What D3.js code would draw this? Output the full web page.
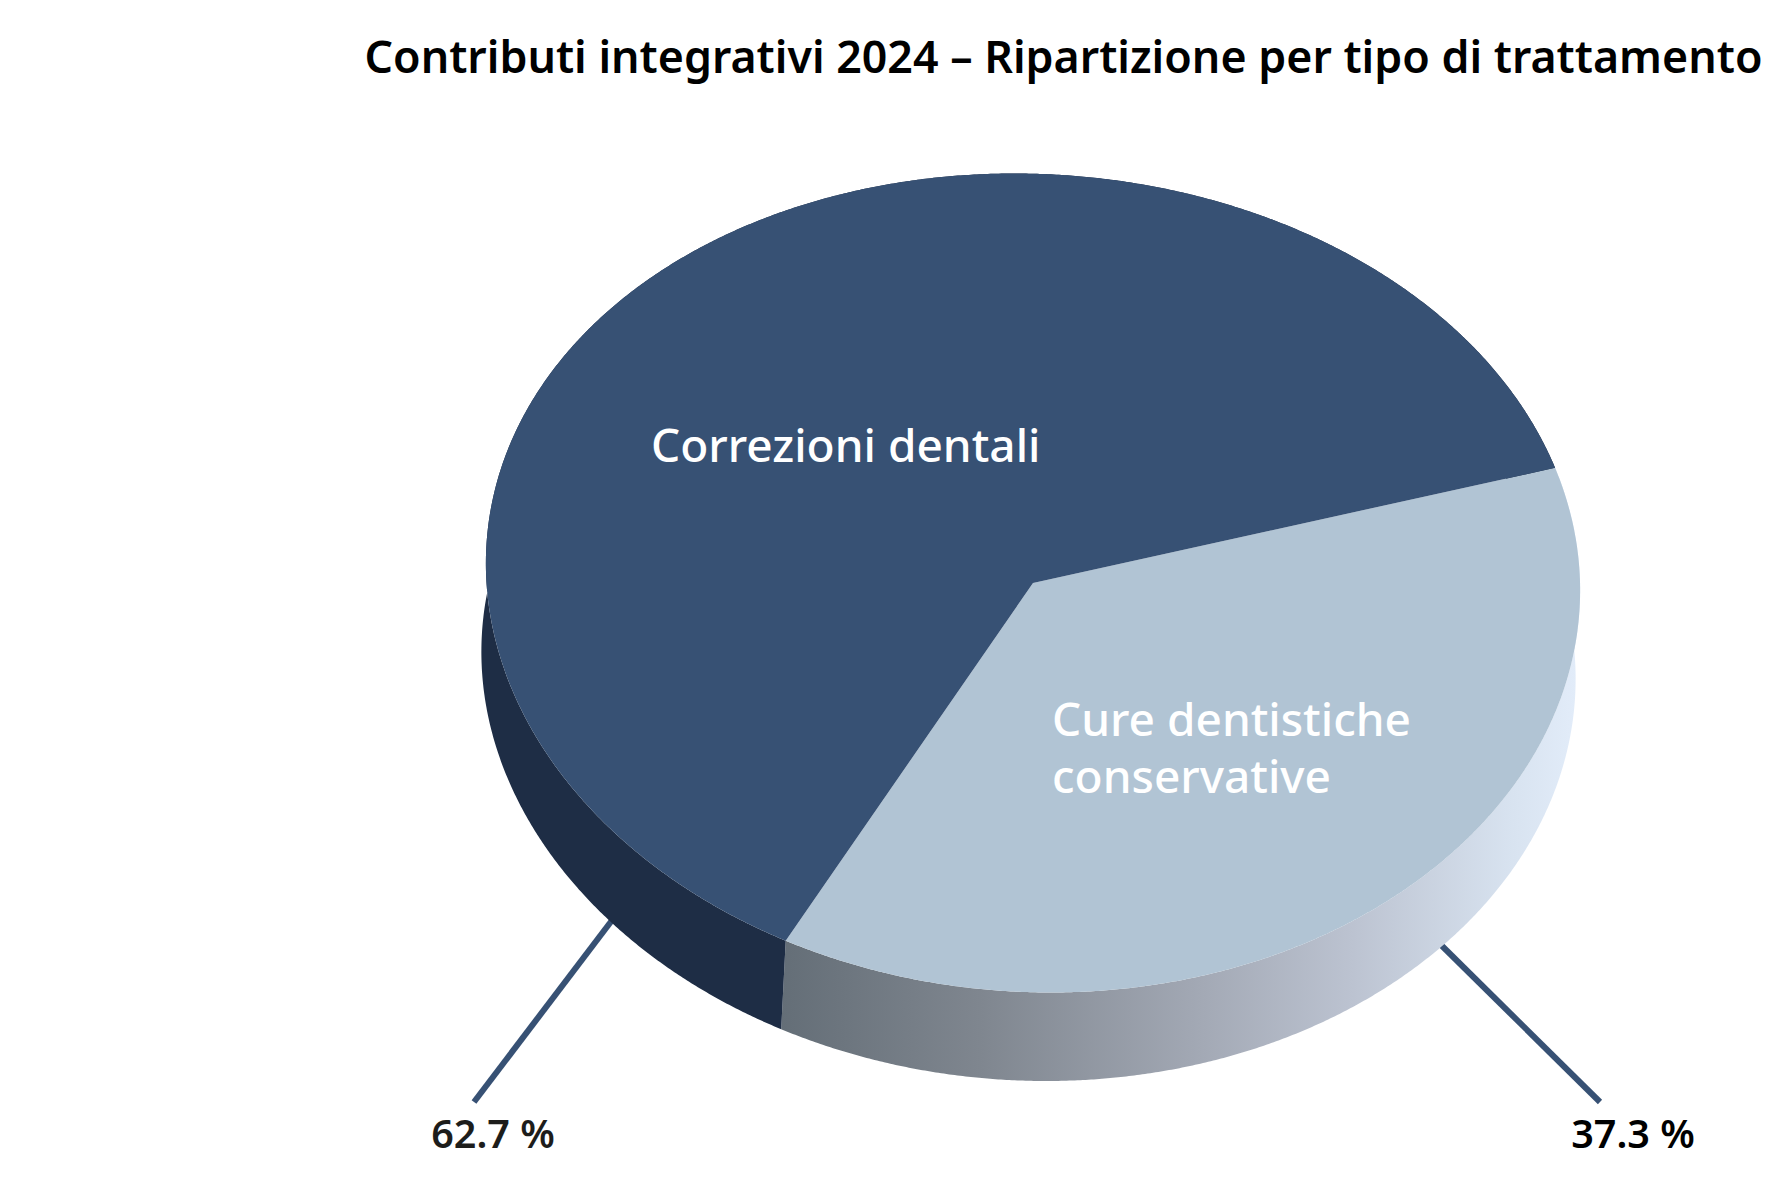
<!DOCTYPE html>
<html lang="it">
<head>
<meta charset="utf-8">
<title>Contributi integrativi 2024</title>
<script src="https://cdn.jsdelivr.net/npm/d3@7"></script>
<style>
  html, body { margin: 0; background: #fff; }
  svg { display: block; }
  text { font-family: "Noto Sans", sans-serif; }
</style>
</head>
<body>
<script>
// data
const categories = ["Cure dentistiche conservative", "Correzioni dentali"];
const shares = [37.3, 62.7];
const shareLabels = ["37.3 %", "62.7 %"];
const nameLines = [["Cure dentistiche", "conservative"], ["Correzioni dentali"]];
const titleText = "Contributi integrativi 2024 – Ripartizione per tipo di trattamento";

const width = 1780;
const height = 1200;

// the pie is a tilted disc: unit circle squashed to an ellipse, then extruded
const cx = 1033, cy = 583;
const rx = 547.5, ry = 409;
const tilt = 3.2;               // degrees
const bend = 6.2;               // the rim sits a little higher at both sides
const depth = { x: -4.5, y: 88.5 };
const startDeg = 70.2;

const topColors = ["#b1c4d4", "#375174"];
const labelColors = ["#000000", "#1d1d1b"];

const svg = d3.select("body").append("svg")
  .attr("width", width)
  .attr("height", height)
  .attr("viewBox", `0 0 ${width} ${height}`);

const defs = svg.append("defs");
const grad = defs.append("linearGradient")
  .attr("id", "wallGrad")
  .attr("gradientUnits", "userSpaceOnUse")
  .attr("x1", 781).attr("y1", 0)
  .attr("x2", 1576).attr("y2", 0);
[[0, "#646e77"], [0.25, "#7f868f"], [0.53, "#a3a9b5"], [0.72, "#bcc3d1"], [0.92, "#d8e3f0"], [1, "#e2ecf9"]]
  .forEach(s => grad.append("stop").attr("offset", s[0]).attr("stop-color", s[1]));
const wallFills = ["url(#wallGrad)", "#1e2d45"];

const pie = d3.pie()
  .sort(null)
  .startAngle(startDeg * Math.PI / 180)
  .endAngle((startDeg + 360) * Math.PI / 180);
const slices = pie(shares);

const tiltRad = tilt * Math.PI / 180;
// unit-circle angle (clockwise from top) to page coordinates
function rimPoint(a) {
  const x = rx * Math.sin(a), y = -ry * Math.cos(a);
  const px = x * Math.cos(tiltRad) - y * Math.sin(tiltRad);
  const py = x * Math.sin(tiltRad) + y * Math.cos(tiltRad);
  return [cx + px, cy + py - bend * (px / rx) * (px / rx)];
}
function rimOf(d) {
  return d3.range(d.startAngle, d.endAngle, 0.005).concat(d.endAngle).map(rimPoint);
}

// leader lines sit under the disc
const leaders = [
  { a: [1436, 940], b: [1600, 1102], text: [1633, 1148] },
  { a: [616, 915], b: [474, 1102], text: [493, 1148] }
];
svg.selectAll(".leader")
  .data(leaders)
  .enter().append("line")
  .attr("class", "leader")
  .attr("x1", d => d.a[0]).attr("y1", d => d.a[1])
  .attr("x2", d => d.b[0]).attr("y2", d => d.b[1])
  .attr("stroke", "#375174")
  .attr("stroke-width", 6);

// side walls
const line = d3.line();
svg.selectAll(".wall")
  .data(slices)
  .enter().append("path")
  .attr("class", "wall")
  .attr("fill", (d, i) => wallFills[i])
  .attr("d", d => {
    const upper = rimOf(d);
    const lower = upper.map(p => [p[0] + depth.x, p[1] + depth.y]).reverse();
    return line(upper.concat(lower)) + "Z";
  });

// top face
svg.selectAll(".face")
  .data(slices)
  .enter().append("path")
  .attr("class", "face")
  .attr("d", d => line([[cx, cy]].concat(rimOf(d))) + "Z")
  .attr("fill", (d, i) => topColors[i]);

// title
svg.append("text")
  .attr("x", 1063.5)
  .attr("y", 73)
  .attr("text-anchor", "middle")
  .attr("font-size", 44.5)
  .attr("font-weight", 600)
  .attr("textLength", 1398)
  .attr("lengthAdjust", "spacingAndGlyphs")
  .attr("fill", "#000")
  .text(titleText);

// slice names
const namePos = [{ x: 1052, y: 736 }, { x: 651, y: 462 }];
nameLines.forEach((lines, i) => {
  svg.append("text")
    .attr("font-size", 46)
    .attr("font-weight", 500)
    .attr("fill", "#fff")
    .selectAll("tspan")
    .data(lines)
    .enter().append("tspan")
    .attr("x", namePos[i].x)
    .attr("y", (d, j) => namePos[i].y + j * 57)
    .text(d => d);
});

// percentages
svg.selectAll(".share")
  .data(shareLabels)
  .enter().append("text")
  .attr("class", "share")
  .attr("x", (d, i) => leaders[i].text[0])
  .attr("y", (d, i) => leaders[i].text[1])
  .attr("text-anchor", "middle")
  .attr("font-size", 39.5)
  .attr("font-weight", 600)
  .attr("fill", (d, i) => labelColors[i])
  .text(d => d);
</script>
</body>
</html>
